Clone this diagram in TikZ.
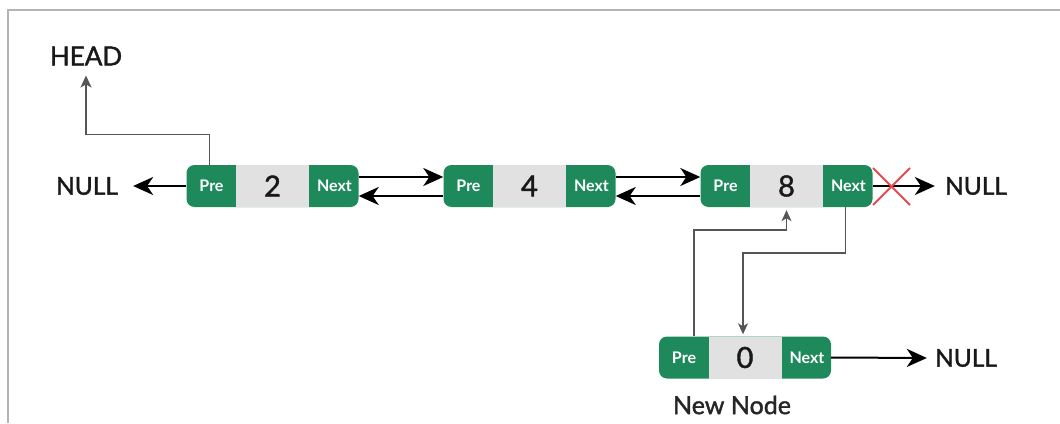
\documentclass[tikz,border=0pt]{standalone}
\usepackage{fontspec}
\setmainfont{Lato}
\newfontfamily\medfont[FakeBold=1.5]{Lato}
\usetikzlibrary{arrows.meta,calc}
\definecolor{gfgreen}{HTML}{1E8A5C}
\definecolor{cellgray}{HTML}{E1E1E1}
\definecolor{linegray}{HTML}{555555}
\definecolor{xred}{HTML}{E8494B}
\definecolor{framegray}{HTML}{B4B4B4}
\tikzset{
  recbox/.style={draw=none,fill=gfgreen,rounded corners=8pt,minimum width=172pt,minimum height=42pt,inner sep=0pt},
  datacell/.style={fill=cellgray,minimum width=73pt,minimum height=42pt,inner sep=0pt,font=\medfont\fontsize{29}{29}\selectfont,text=black!90},
  plabel/.style={minimum width=50pt,minimum height=42pt,inner sep=0pt,text=white,font=\bfseries\fontsize{16}{16}\selectfont},
  nlabel/.style={minimum width=48pt,minimum height=42pt,inner sep=0pt,text=white,font=\bfseries\fontsize{16}{16}\selectfont},
  bigtext/.style={inner sep=0pt,text=black!90,font=\medfont\fontsize{24.5}{24.5}\selectfont},
  mainarr/.style={draw=black,line width=2pt,-{Stealth[length=20pt,width=18pt,inset=6pt]}},
  thinarr/.style={draw=linegray,line width=1.2pt,-{Stealth[length=11pt,width=10pt,inset=3pt]}},
}
\begin{document}
\begin{tikzpicture}[x=1pt,y=-1pt]
\useasboundingbox (0,0) rectangle (1060,423);
% frame
\draw[framegray,line width=1.5pt] (8,423) -- (8,10) -- (1060,10);
% records
\foreach \n/\cx/\cy/\v in {2/272.5/186/2, 4/529.5/186/4, 8/786.5/186/8, 0/745/357.5/0}{
  \node[recbox] (r\n) at (\cx,\cy) {};
  \node[datacell] (d\n) at (r\n.center) {\v};
  \node[plabel,anchor=west] (pre\n) at (r\n.west) {Pre};
  \node[nlabel,anchor=east] (nx\n) at (r\n.east) {Next};
}
% texts
\node[bigtext,font=\medfont\fontsize{26}{26}\selectfont] (head) at (86,56) {HEAD};
\node[bigtext] (nullA) at (87,186) {NULL};
\node[bigtext] (nullB) at (976,186) {NULL};
\node[bigtext] (nullC) at (966,358) {NULL};
\node[bigtext,font=\medfont\fontsize{25}{25}\selectfont,text=black!85] (newnode) at (732,405) {New Node};
% head pointer
\draw[thinarr,-{Stealth[length=12pt,width=11pt,inset=3pt]}] ([xshift=-2pt]pre2.north) -- ++(0,-30) -| ([yshift=-10pt]head.south);
% null on the left
\draw[mainarr] (pre2.west) -- ([xshift=15pt]nullA.east);
% forward / backward links
\draw[mainarr] ([yshift=9pt]nx2.east) -- ([yshift=9pt]pre4.west);
\draw[mainarr] ([yshift=-10pt]pre4.west) -- ([yshift=-10pt]nx2.east);
\draw[mainarr] ([yshift=9pt]nx4.east) -- ([yshift=9pt]pre8.west);
\draw[mainarr] ([yshift=-10pt]pre8.west) -- ([yshift=-10pt]nx4.east);
% node 8 next -> NULL (removed)
\draw[mainarr] (nx8.east) -- ([xshift=-10pt]nullB.west);
\draw[xred,line width=2pt] (873,168) -- (910,205) (873,205) -- (910,168);
% new node links
\draw[thinarr] ([xshift=10pt]pre0.north) -- ([xshift=10pt]pre0.north |- 0,230) -| ([yshift=-3pt]d8.south);
\draw[thinarr] ([xshift=-3pt]nx8.south) -- ([xshift=-3pt]nx8.south |- 0,253) -| ([xshift=-2pt,yshift=2pt]d0.north);
\draw[mainarr] (nx0.east) -- ([xshift=-8pt]nullC.west);
\end{tikzpicture}
\end{document}
